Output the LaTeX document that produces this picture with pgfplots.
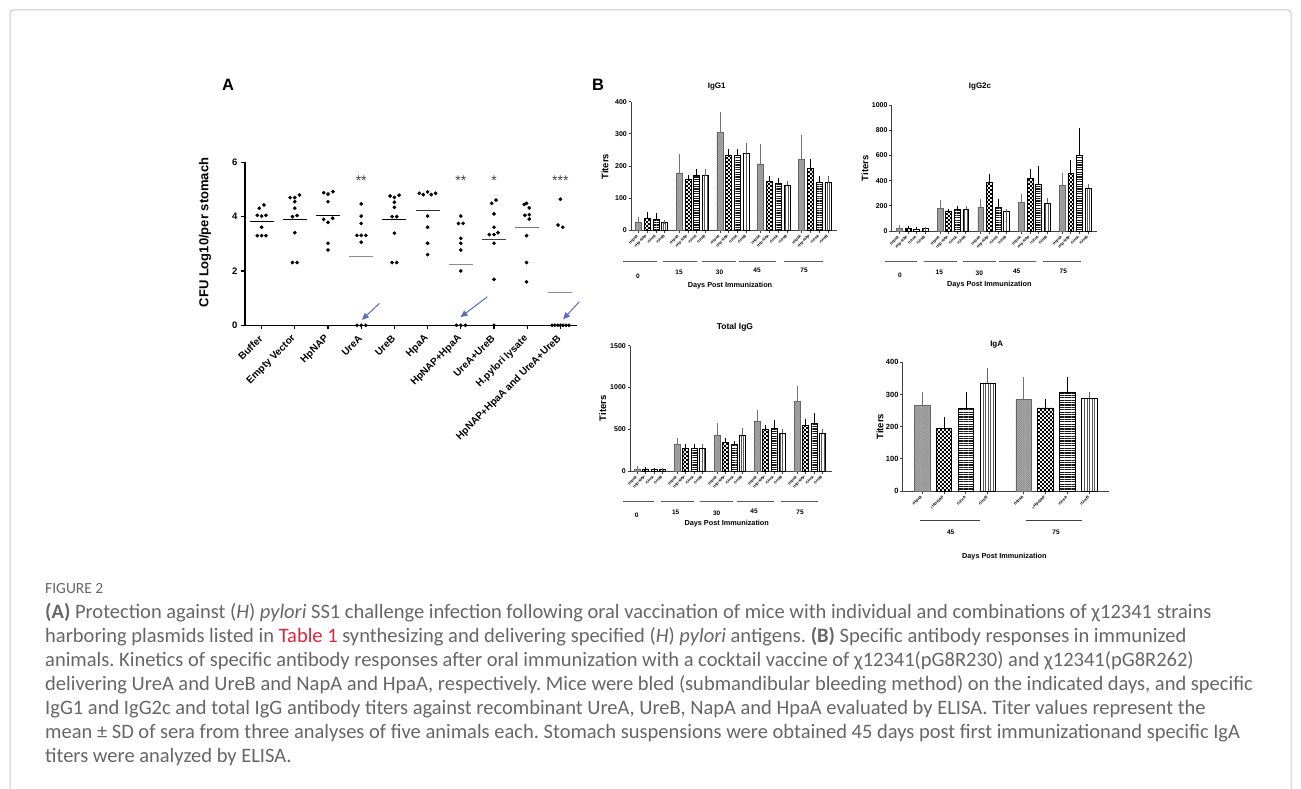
\documentclass[border=0pt]{standalone}
\usepackage{fontspec}
\setmainfont{Liberation Sans}
\newfontfamily\capfont{Carlito}
\usepackage{pgfplots}
\usepackage{pgfplotstable}
\pgfplotsset{compat=1.18}
\usetikzlibrary{patterns,patterns.meta,arrows.meta}
\newcommand{\fs}[1]{\fontsize{#1}{#1}\selectfont}
\definecolor{arrowblue}{HTML}{5A6CC0}
\definecolor{tablered}{HTML}{D7263D}
\definecolor{captext}{HTML}{666666}
\pgfdeclarepatternformonly{finecheck}{\pgfpointorigin}{\pgfqpoint{4.4pt}{4.4pt}}{\pgfqpoint{4.4pt}{4.4pt}}{%
  \pgfpathrectangle{\pgfpointorigin}{\pgfqpoint{2.2pt}{2.2pt}}%
  \pgfpathrectangle{\pgfqpoint{2.2pt}{2.2pt}}{\pgfqpoint{2.2pt}{2.2pt}}%
  \pgfusepath{fill}}

% ---------- Panel A data ----------
\pgfplotstableread{
x y
0.07 4.43
-0.07 4.31
-0.13 4.05
0.00 4.02
0.13 4.05
0.00 3.61
-0.13 3.30
0.00 3.30
0.13 3.30
0.86 4.70
1.00 4.70
1.14 4.80
1.00 4.55
1.00 4.31
0.93 4.00
1.07 4.04
1.00 3.41
0.93 2.31
1.07 2.31
1.87 4.88
2.00 4.83
2.15 4.92
2.00 4.55
1.87 3.90
2.14 3.94
2.00 3.79
2.00 3.02
2.00 2.77
3.00 4.47
3.00 4.02
3.00 3.75
2.87 3.31
3.00 3.31
3.14 3.31
3.00 3.06
2.87 0
3.00 0
3.14 0
3.87 4.76
4.00 4.71
4.14 4.79
4.00 4.53
4.00 4.34
3.93 4.00
4.07 4.00
4.00 3.39
3.93 2.31
4.07 2.31
4.75 4.86
4.87 4.81
5.00 4.91
5.11 4.81
5.24 4.86
5.00 4.02
5.00 3.61
5.00 3.02
5.00 2.60
6.00 4.02
5.93 3.75
6.07 3.75
6.00 3.20
6.00 3.02
6.00 2.77
6.00 2.00
5.87 0
6.00 0
6.14 0
7.06 4.61
6.93 4.49
7.00 4.10
7.00 3.61
7.12 3.41
6.86 3.34
7.00 3.34
7.00 3.02
7.00 1.69
7.00 0
7.91 4.45
7.98 4.49
8.06 4.32
7.93 4.05
8.06 4.07
8.06 3.91
7.98 3.30
7.98 2.31
7.98 1.60
9.00 4.64
8.93 3.69
9.07 3.61
8.75 0
8.83 0
8.92 0
9.00 0
9.08 0
9.17 0
9.26 0
}\dotsA

% ---------- Panel B data ----------
\pgfplotstableread{
xa ya ea xb yb eb xc yc ec xd yd ed
7.3 24 12 16.1 36 14 24.9 33 16 33.7 23 2
48.1 178 54 56.9 157 9 65.7 169 17 74.5 169 17
88.9 304 60 97.7 234 14 106.5 234 14 115.3 238 29
129.7 206 57 138.5 152 12 147.3 146 11 156.1 140 8
170.5 219 71 179.3 191 26 188.1 148 15 196.9 148 15
}\tIgGone

\pgfplotstableread{
xa ya ea xb yb eb xc yc ec xd yd ed
7.6 21 13 16.2 21 5 24.8 16 2 33.4 18 3
48.3 180 53 56.9 159 5 65.5 172 13 74.1 172 16
89.0 188 53 97.6 386 51 106.2 188 55 114.8 153 6
129.7 225 53 138.3 418 58 146.9 370 135 155.5 222 29
170.4 365 85 179.0 460 90 187.6 598 204 196.2 341 19
}\tIgGtwo

\pgfplotstableread{
xa ya ea xb yb eb xc yc ec xd yd ed
7.3 24 12 15.6 24 4 24.0 16 4 32.3 20 2
47.3 319 60 55.6 275 24 64.0 275 24 72.3 275 24
87.3 427 123 95.6 347 32 104.0 319 24 112.3 427 68
127.3 598 116 135.6 503 32 144.0 515 75 152.3 455 32
167.3 830 167 175.6 550 56 184.0 566 112 192.3 455 32
}\tIgGtot

\pgfplotstableread{
xa ya ea xb yb eb xc yc ec xd yd ed
19.5 265 39 41.3 195 30 63.1 257 47 84.9 336 40
121.0 285 63 142.8 258 24 164.6 308 42 186.4 288 16
}\tIgA

\pgfplotsset{
  barax/.style={scale only axis, anchor=south west, axis lines*=left, ymin=0, xmin=0,
    tick align=outside, major tick length=2.5pt,
    axis line style={line width=0.9pt, black!75},
    tick style={line width=0.7pt, black!75},
    y tick label style={font=\bfseries\fs{7}, inner sep=1.5pt},
    x tick label style={rotate=45, anchor=east, font=\bfseries\fs{3.8}, inner sep=0.6pt},
    xticklabel shift=2.5pt,
    /pgf/number format/assume math mode=true,
    /pgf/number format/1000 sep={},
    scaled y ticks=false, clip=false},
  pA/.style={ybar, bar shift=0pt, draw=black!60, line width=0.6pt, fill=gray!60,
    postaction={pattern={Hatch[angle=45,distance=1.6pt,line width=0.35pt]}, pattern color=black!45}},
  pB/.style={ybar, bar shift=0pt, draw=black, line width=0.6pt, fill=white,
    postaction={pattern=finecheck}},
  pC/.style={ybar, bar shift=0pt, draw=black, line width=0.6pt, fill=white,
    postaction={pattern={Lines[angle=0,distance=2.4pt,line width=1.15pt]}, pattern color=black!90}},
  pD/.style={ybar, bar shift=0pt, draw=black, line width=0.6pt, fill=white,
    postaction={pattern={Lines[angle=90,distance=2.6pt,line width=0.4pt]}, pattern color=black!65}},
  errb/.style={forget plot, mark=none, draw=none,
    error bars/.cd, y dir=plus, y explicit,
    error bar style={draw=#1, line width=0.6pt},
    error mark options={draw=#1, line width=0.6pt, mark size=1.6pt}},
  errb/.default=black,
}

\begin{document}
\frenchspacing
\begin{tikzpicture}
\useasboundingbox (0pt,0pt) rectangle (1301pt,-789pt);
\draw[black!22, line width=1pt, rounded corners=3pt] (10pt,-10pt) rectangle (1291pt,-820pt);

% ================= Panel A =================
\node[font=\bfseries\fs{16.5}] at (228pt,-85pt) {A};
\node[font=\bfseries\fs{13}, rotate=90] at (205pt,-232.5pt) {CFU Log10/per stomach};
\begin{axis}[at={(245pt,-325.3pt)}, anchor=south west, scale only axis,
  width=332pt, height=163pt, xmin=-0.5, xmax=9.5, ymin=0, ymax=6,
  axis lines*=left, axis line style={line width=1.2pt, black},
  ytick={0,2,4,6}, xtick={0,...,9},
  xticklabels={Buffer, Empty Vector, HpNAP, UreA, UreB, HpaA, HpNAP+HpaA, UreA+UreB, H.pylori lysate, HpNAP+HpaA and UreA+UreB},
  tick align=outside, major tick length=4pt, tick style={line width=1.1pt, black},
  x tick label style={rotate=45, anchor=east, font=\bfseries\fs{10}, inner sep=1pt},
  xticklabel shift=7pt,
  y tick label style={font=\bfseries\fs{9.5}},
  /pgf/number format/assume math mode=true, clip=false]
\addplot[only marks, mark=*, mark size=1.65pt, black] table[x=x,y=y] {\dotsA};
\addplot[black, line width=1.1pt] coordinates {(-0.36,3.82) (0.36,3.82)};
\addplot[black, line width=1.1pt] coordinates {(0.64,3.90) (1.36,3.90)};
\addplot[black, line width=1.1pt] coordinates {(1.64,4.05) (2.36,4.05)};
\addplot[black!45, line width=1.1pt] coordinates {(2.64,2.53) (3.36,2.53)};
\addplot[black, line width=1.1pt] coordinates {(3.64,3.90) (4.36,3.90)};
\addplot[black!80, line width=1.1pt] coordinates {(4.64,4.21) (5.36,4.21)};
\addplot[black!45, line width=1.1pt] coordinates {(5.64,2.25) (6.36,2.25)};
\addplot[black!75, line width=1.1pt] coordinates {(6.64,3.15) (7.36,3.15)};
\addplot[black!55, line width=1.1pt] coordinates {(7.64,3.60) (8.36,3.60)};
\addplot[black!45, line width=1.1pt] coordinates {(8.64,1.20) (9.36,1.20)};
\node[font=\fs{14}, text=black!75] at (axis cs:3,5.32) {**};
\node[font=\fs{14}, text=black!75] at (axis cs:6,5.32) {**};
\node[font=\fs{14}, text=black!75] at (axis cs:7,5.32) {*};
\node[font=\fs{14}, text=black!75] at (axis cs:9,5.32) {***};
\draw[-{Triangle[length=7pt,width=6pt]}, line width=1pt, arrowblue] (axis cs:3.55,0.81) -- (axis cs:3.02,0.2);
\draw[-{Triangle[length=7pt,width=6pt]}, line width=1pt, arrowblue] (axis cs:6.80,1.05) -- (axis cs:5.99,0.3);
\draw[-{Triangle[length=7pt,width=6pt]}, line width=1pt, arrowblue] (axis cs:9.57,0.87) -- (axis cs:9.08,0.22);
\end{axis}

% ================= Panel B =================
\node[font=\bfseries\fs{16.5}] at (598pt,-85pt) {B};

% ---- IgG1 ----
\node[font=\bfseries\fs{8}] at (716.7pt,-86.7pt) {IgG1};
\node[font=\bfseries\fs{9.5}, rotate=90] at (605pt,-166.7pt) {Titers};
\begin{axis}[barax, at={(631pt,-230pt)}, width=205.7pt, height=128.3pt, xmax=205.7, ymax=400,
  ytick={0,100,200,300,400}, bar width=6,
  xtick={7.3,16.1,24.9,33.7,48.1,56.9,65.7,74.5,88.9,97.7,106.5,115.3,129.7,138.5,147.3,156.1,170.5,179.3,188.1,196.9},
  xticklabels={rHpaA,rHp-NAP,rUreA,rUreB,rHpaA,rHp-NAP,rUreA,rUreB,rHpaA,rHp-NAP,rUreA,rUreB,rHpaA,rHp-NAP,rUreA,rUreB,rHpaA,rHp-NAP,rUreA,rUreB}]
\addplot[pA] table[x=xa,y=ya]{\tIgGone};
\addplot[pB] table[x=xb,y=yb]{\tIgGone};
\addplot[pC] table[x=xc,y=yc]{\tIgGone};
\addplot[pD] table[x=xd,y=yd]{\tIgGone};
\addplot[errb=black!55] table[x=xa,y=ya,y error=ea]{\tIgGone};
\addplot[errb] table[x=xb,y=yb,y error=eb]{\tIgGone};
\addplot[errb] table[x=xc,y=yc,y error=ec]{\tIgGone};
\addplot[errb=black!60] table[x=xd,y=yd,y error=ed]{\tIgGone};
\end{axis}
\begin{scope}[line width=1pt, black!65]
\draw (623pt,-261pt) -- (657pt,-261pt);
\draw (663pt,-261pt) -- (697pt,-261pt);
\draw (702pt,-261pt) -- (736pt,-261pt);
\draw (739pt,-261pt) -- (776pt,-261pt);
\draw (784pt,-261pt) -- (823pt,-261pt);
\end{scope}
\begin{scope}[font=\bfseries\fs{6.5}]
\node at (638pt,-276pt) {0};
\node at (679pt,-272pt) {15};
\node at (719.5pt,-272.5pt) {30};
\node at (757pt,-270pt) {45};
\node at (804pt,-270pt) {75};
\end{scope}
\node[font=\bfseries\fs{7.3}] at (730pt,-285.5pt) {Days Post Immunization};

% ---- IgG2c ----
\node[font=\bfseries\fs{8}] at (980pt,-87pt) {IgG2c};
\node[font=\bfseries\fs{9.5}, rotate=90] at (865pt,-168.3pt) {Titers};
\begin{axis}[barax, at={(891.7pt,-231pt)}, width=205.6pt, height=126pt, xmax=205.6, ymax=1000,
  ytick={0,200,400,600,800,1000}, bar width=5.8,
  xtick={7.6,16.2,24.8,33.4,48.3,56.9,65.5,74.1,89.0,97.6,106.2,114.8,129.7,138.3,146.9,155.5,170.4,179.0,187.6,196.2},
  xticklabels={rHpaA,rHp-NAP,rUreA,rUreB,rHpaA,rHp-NAP,rUreA,rUreB,rHpaA,rHp-NAP,rUreA,rUreB,rHpaA,rHp-NAP,rUreA,rUreB,rHpaA,rHp-NAP,rUreA,rUreB}]
\addplot[pA] table[x=xa,y=ya]{\tIgGtwo};
\addplot[pB] table[x=xb,y=yb]{\tIgGtwo};
\addplot[pC] table[x=xc,y=yc]{\tIgGtwo};
\addplot[pD] table[x=xd,y=yd]{\tIgGtwo};
\addplot[errb=black!55] table[x=xa,y=ya,y error=ea]{\tIgGtwo};
\addplot[errb] table[x=xb,y=yb,y error=eb]{\tIgGtwo};
\addplot[errb] table[x=xc,y=yc,y error=ec]{\tIgGtwo};
\addplot[errb=black!60] table[x=xd,y=yd,y error=ed]{\tIgGtwo};
\end{axis}
\begin{scope}[line width=1pt, black!65]
\draw (885pt,-261pt) -- (917pt,-261pt);
\draw (924pt,-261pt) -- (957pt,-261pt);
\draw (963pt,-261pt) -- (996pt,-261pt);
\draw (999pt,-261pt) -- (1036pt,-261pt);
\draw (1043pt,-261pt) -- (1081pt,-261pt);
\end{scope}
\begin{scope}[font=\bfseries\fs{6.5}]
\node at (900pt,-275.7pt) {0};
\node at (939.3pt,-272.7pt) {15};
\node at (979.3pt,-273.3pt) {30};
\node at (1016.7pt,-271pt) {45};
\node at (1063.3pt,-271pt) {75};
\end{scope}
\node[font=\bfseries\fs{7.3}] at (989.3pt,-285pt) {Days Post Immunization};

% ---- Total IgG ----
\node[font=\bfseries\fs{8.5}] at (735pt,-327.3pt) {Total IgG};
\node[font=\bfseries\fs{9.5}, rotate=90] at (602.7pt,-408.3pt) {Titers};
\begin{axis}[barax, at={(630pt,-471pt)}, width=201.7pt, height=125.3pt, xmax=201.7, ymax=1500,
  ytick={0,500,1000,1500}, bar width=5.7,
  xtick={7.3,15.6,24.0,32.3,47.3,55.6,64.0,72.3,87.3,95.6,104.0,112.3,127.3,135.6,144.0,152.3,167.3,175.6,184.0,192.3},
  xticklabels={rHpaA,rHp-NAP,rUreA,rUreB,rHpaA,rHp-NAP,rUreA,rUreB,rHpaA,rHp-NAP,rUreA,rUreB,rHpaA,rHp-NAP,rUreA,rUreB,rHpaA,rHp-NAP,rUreA,rUreB}]
\addplot[pA] table[x=xa,y=ya]{\tIgGtot};
\addplot[pB] table[x=xb,y=yb]{\tIgGtot};
\addplot[pC] table[x=xc,y=yc]{\tIgGtot};
\addplot[pD] table[x=xd,y=yd]{\tIgGtot};
\addplot[errb=black!55] table[x=xa,y=ya,y error=ea]{\tIgGtot};
\addplot[errb] table[x=xb,y=yb,y error=eb]{\tIgGtot};
\addplot[errb] table[x=xc,y=yc,y error=ec]{\tIgGtot};
\addplot[errb=black!60] table[x=xd,y=yd,y error=ed]{\tIgGtot};
\end{axis}
\begin{scope}[line width=1pt, black!65]
\draw (622.7pt,-501.7pt) -- (654pt,-501.7pt);
\draw (661pt,-501.7pt) -- (694.3pt,-501.7pt);
\draw (700pt,-501.7pt) -- (733.3pt,-501.7pt);
\draw (736.7pt,-501.7pt) -- (774pt,-501.7pt);
\draw (780.7pt,-501.7pt) -- (818.3pt,-501.7pt);
\end{scope}
\begin{scope}[font=\bfseries\fs{6.5}]
\node at (636.7pt,-515.7pt) {0};
\node at (675.7pt,-512.7pt) {15};
\node at (716.7pt,-513.3pt) {30};
\node at (754pt,-511pt) {45};
\node at (800pt,-512.3pt) {75};
\end{scope}
\node[font=\bfseries\fs{7.3}] at (726.7pt,-524pt) {Days Post Immunization};

% ---- IgA ----
\node[font=\bfseries\fs{8}] at (996.7pt,-345pt) {IgA};
\node[font=\bfseries\fs{9.5}, rotate=90] at (880pt,-426.7pt) {Titers};
\begin{axis}[barax, at={(902.7pt,-491pt)}, width=206.6pt, height=128.7pt, xmax=206.6, ymax=400,
  ytick={0,100,200,300,400}, bar width=15.5,
  y tick label style={font=\bfseries\fs{7.5}},
  x tick label style={font=\bfseries\fs{4}},
  xtick={19.5,41.3,63.1,84.9,121.0,142.8,164.6,186.4},
  xticklabels={rHpaA,rHp-NAP,rUreA,rUreB,rHpaA,rHp-NAP,rUreA,rUreB}]
\addplot[pA] table[x=xa,y=ya]{\tIgA};
\addplot[pB] table[x=xb,y=yb]{\tIgA};
\addplot[pC] table[x=xc,y=yc]{\tIgA};
\addplot[pD] table[x=xd,y=yd]{\tIgA};
\addplot[errb=black!55] table[x=xa,y=ya,y error=ea]{\tIgA};
\addplot[errb] table[x=xb,y=yb,y error=eb]{\tIgA};
\addplot[errb] table[x=xc,y=yc,y error=ec]{\tIgA};
\addplot[errb=black!60] table[x=xd,y=yd,y error=ed]{\tIgA};
\end{axis}
\begin{scope}[line width=1pt, black!75]
\draw (920pt,-520.7pt) -- (980pt,-520.7pt);
\draw (1025.7pt,-520.7pt) -- (1082.3pt,-520.7pt);
\end{scope}
\begin{scope}[font=\bfseries\fs{6.5}]
\node at (950.7pt,-532.3pt) {45};
\node at (1056pt,-532.3pt) {75};
\end{scope}
\node[font=\bfseries\fs{7.3}] at (1004.3pt,-556.7pt) {Days Post Immunization};

% ================= Caption =================
\begin{scope}[every node/.style={anchor=base west, inner sep=0pt, text=captext, font=\capfont\fs{20.5}}]
\node[text=black!60, font=\capfont\fs{15.5}] at (45pt,-593pt) {FIGURE 2};
\node at (45pt,-618pt) {\textbf{(A)} Protection against (\textit{H}) \textit{pylori} SS1 challenge infection following oral vaccination of mice with individual and combinations of χ12341 strains};
\node at (45pt,-642pt) {harboring plasmids listed in \textcolor{tablered}{Table 1} synthesizing and delivering specified (\textit{H}) \textit{pylori} antigens. \textbf{(B)} Specific antibody responses in immunized};
\node at (45pt,-666pt) {animals. Kinetics of specific antibody responses after oral immunization with a cocktail vaccine of χ12341(pG8R230) and χ12341(pG8R262)};
\node at (45pt,-690pt) {delivering UreA and UreB and NapA and HpaA, respectively. Mice were bled (submandibular bleeding method) on the indicated days, and specific};
\node at (45pt,-714pt) {IgG1 and IgG2c and total IgG antibody titers against recombinant UreA, UreB, NapA and HpaA evaluated by ELISA. Titer values represent the};
\node at (45pt,-738pt) {mean ± SD of sera from three analyses of five animals each. Stomach suspensions were obtained 45 days post first immunizationand specific IgA};
\node at (45pt,-762pt) {titers were analyzed by ELISA.};
\end{scope}
\end{tikzpicture}
\end{document}
